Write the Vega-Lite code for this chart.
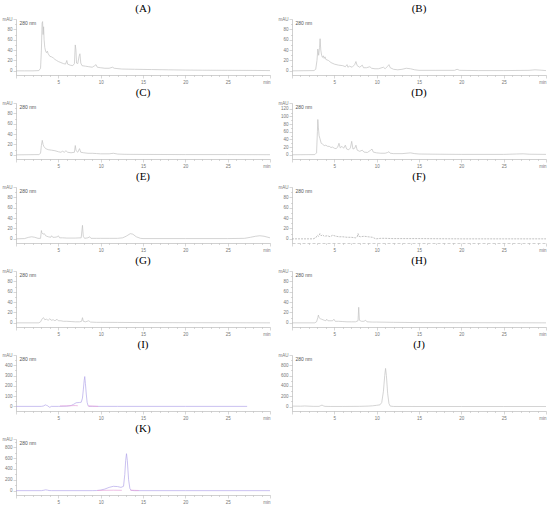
{
"$schema": "https://vega.github.io/schema/vega-lite/v6.json",
"padding": {"left": 2, "top": 3, "right": 2, "bottom": 0},
"background": "white",
"columns": 2,
"spacing": {"row": 3, "column": 6},
"datasets": {
"A": [{"t":0,"v":0},{"t":1,"v":0},{"t":2,"v":0},{"t":2.7,"v":0.5},{"t":2.9,"v":5},{"t":3.0,"v":40},{"t":3.08,"v":92},{"t":3.14,"v":95},{"t":3.2,"v":70},{"t":3.26,"v":85},{"t":3.32,"v":60},{"t":3.4,"v":45},{"t":3.5,"v":38},{"t":3.6,"v":35},{"t":3.7,"v":38},{"t":3.8,"v":33},{"t":4.0,"v":28},{"t":4.2,"v":27},{"t":4.4,"v":25},{"t":4.6,"v":22},{"t":4.8,"v":20},{"t":5.0,"v":18},{"t":5.3,"v":16},{"t":5.6,"v":14},{"t":5.85,"v":13},{"t":6.0,"v":20},{"t":6.1,"v":13},{"t":6.4,"v":11},{"t":6.7,"v":10},{"t":6.9,"v":14},{"t":7.0,"v":50},{"t":7.08,"v":40},{"t":7.15,"v":15},{"t":7.3,"v":14},{"t":7.45,"v":28},{"t":7.55,"v":33},{"t":7.65,"v":15},{"t":7.8,"v":10},{"t":8.2,"v":9},{"t":8.6,"v":8},{"t":9.0,"v":7},{"t":9.3,"v":10},{"t":9.45,"v":12},{"t":9.6,"v":7},{"t":10.0,"v":6},{"t":10.5,"v":5},{"t":11.0,"v":5},{"t":11.4,"v":7},{"t":11.6,"v":5},{"t":12.5,"v":3.5},{"t":14,"v":3},{"t":16,"v":2.5},{"t":18,"v":2},{"t":20,"v":1.5},{"t":22,"v":1.2},{"t":25,"v":1},{"t":28,"v":0.8},{"t":30,"v":0.5}],
"B": [{"t":0,"v":0},{"t":2.6,"v":0.5},{"t":2.8,"v":3},{"t":2.95,"v":20},{"t":3.05,"v":42},{"t":3.15,"v":30},{"t":3.25,"v":45},{"t":3.32,"v":62},{"t":3.4,"v":40},{"t":3.5,"v":30},{"t":3.6,"v":26},{"t":3.7,"v":29},{"t":3.8,"v":24},{"t":3.9,"v":27},{"t":4.0,"v":22},{"t":4.3,"v":20},{"t":4.6,"v":16},{"t":5.0,"v":13},{"t":5.5,"v":11},{"t":6.0,"v":10},{"t":6.3,"v":8},{"t":6.5,"v":12},{"t":6.6,"v":7},{"t":6.8,"v":9},{"t":7.1,"v":7},{"t":7.4,"v":12},{"t":7.55,"v":18},{"t":7.7,"v":10},{"t":8.0,"v":7},{"t":8.3,"v":11},{"t":8.45,"v":6},{"t":8.8,"v":6},{"t":9.2,"v":8},{"t":9.4,"v":5},{"t":9.8,"v":4},{"t":10.2,"v":4},{"t":10.8,"v":7},{"t":11.0,"v":4},{"t":11.3,"v":9},{"t":11.45,"v":12},{"t":11.6,"v":6},{"t":12.0,"v":3},{"t":12.5,"v":2},{"t":13.0,"v":3},{"t":13.5,"v":5},{"t":14.0,"v":4},{"t":14.5,"v":2},{"t":15,"v":1},{"t":17,"v":1},{"t":19.2,"v":1},{"t":19.5,"v":3},{"t":19.8,"v":1},{"t":22,"v":0.5},{"t":25,"v":0.5},{"t":28,"v":1},{"t":28.7,"v":2},{"t":29.2,"v":1.5},{"t":30,"v":0.5}],
"C": [{"t":0,"v":0},{"t":2.7,"v":0.5},{"t":2.9,"v":3},{"t":3.0,"v":18},{"t":3.1,"v":28},{"t":3.2,"v":20},{"t":3.3,"v":16},{"t":3.5,"v":12},{"t":3.8,"v":10},{"t":4.2,"v":9},{"t":4.6,"v":8},{"t":5.0,"v":6},{"t":5.3,"v":5},{"t":5.5,"v":7},{"t":5.7,"v":5},{"t":5.9,"v":8},{"t":6.1,"v":5},{"t":6.5,"v":4},{"t":6.9,"v":5},{"t":7.0,"v":18},{"t":7.1,"v":8},{"t":7.3,"v":5},{"t":7.5,"v":12},{"t":7.65,"v":5},{"t":8.0,"v":4},{"t":8.5,"v":3},{"t":9.0,"v":3},{"t":9.5,"v":2.5},{"t":10,"v":2},{"t":11,"v":2},{"t":11.5,"v":3},{"t":12,"v":1.5},{"t":13,"v":1},{"t":15,"v":0.8},{"t":20,"v":0.5},{"t":25,"v":0.5},{"t":30,"v":0.3}],
"D": [{"t":0,"v":0},{"t":2.7,"v":0.5},{"t":2.9,"v":5},{"t":3.0,"v":60},{"t":3.05,"v":92},{"t":3.12,"v":70},{"t":3.2,"v":50},{"t":3.3,"v":42},{"t":3.45,"v":30},{"t":3.6,"v":28},{"t":3.8,"v":24},{"t":4.0,"v":25},{"t":4.2,"v":22},{"t":4.4,"v":22},{"t":4.6,"v":19},{"t":4.8,"v":20},{"t":5.0,"v":17},{"t":5.2,"v":16},{"t":5.4,"v":20},{"t":5.55,"v":30},{"t":5.7,"v":18},{"t":5.9,"v":22},{"t":6.1,"v":17},{"t":6.3,"v":25},{"t":6.45,"v":15},{"t":6.7,"v":13},{"t":6.9,"v":18},{"t":7.05,"v":35},{"t":7.2,"v":15},{"t":7.4,"v":17},{"t":7.55,"v":25},{"t":7.7,"v":12},{"t":8.0,"v":9},{"t":8.3,"v":12},{"t":8.5,"v":7},{"t":8.9,"v":6},{"t":9.3,"v":12},{"t":9.45,"v":15},{"t":9.6,"v":7},{"t":10.0,"v":5},{"t":10.5,"v":4},{"t":11.0,"v":4},{"t":11.3,"v":6},{"t":11.45,"v":8},{"t":11.6,"v":4},{"t":12.0,"v":3},{"t":13.0,"v":3},{"t":14.0,"v":5},{"t":14.5,"v":3},{"t":15,"v":2},{"t":17,"v":1.5},{"t":20,"v":1},{"t":25,"v":1},{"t":26.5,"v":2},{"t":27.3,"v":2.5},{"t":28,"v":1.5},{"t":30,"v":1}],
"E": [{"t":0,"v":0},{"t":1.0,"v":0.5},{"t":1.5,"v":3},{"t":1.85,"v":4},{"t":2.2,"v":3},{"t":2.6,"v":1},{"t":2.9,"v":1},{"t":3.0,"v":16},{"t":3.05,"v":12},{"t":3.2,"v":9},{"t":3.35,"v":10},{"t":3.5,"v":6},{"t":3.8,"v":4},{"t":4.1,"v":3},{"t":4.2,"v":6},{"t":4.35,"v":3},{"t":4.6,"v":3},{"t":4.9,"v":4},{"t":5.0,"v":6},{"t":5.15,"v":2},{"t":5.5,"v":2},{"t":6.0,"v":1.5},{"t":7.0,"v":1.5},{"t":7.7,"v":2},{"t":7.85,"v":26},{"t":7.95,"v":5},{"t":8.1,"v":1},{"t":8.5,"v":2},{"t":8.7,"v":4},{"t":8.85,"v":1},{"t":9.5,"v":1},{"t":10,"v":1},{"t":11,"v":1},{"t":12,"v":1},{"t":12.6,"v":2},{"t":13.0,"v":5},{"t":13.5,"v":10},{"t":13.8,"v":9},{"t":14.2,"v":4},{"t":14.7,"v":1},{"t":15,"v":0.5},{"t":20,"v":0.5},{"t":25,"v":0.5},{"t":27,"v":1},{"t":27.7,"v":3},{"t":28.3,"v":5},{"t":28.8,"v":6},{"t":29.3,"v":5},{"t":30,"v":2}],
"F": [{"t":0,"v":0},{"t":2.5,"v":0},{"t":2.8,"v":2},{"t":3.0,"v":7},{"t":3.15,"v":5},{"t":3.3,"v":10},{"t":3.45,"v":6},{"t":3.6,"v":8},{"t":3.8,"v":5},{"t":4.2,"v":6},{"t":4.5,"v":4},{"t":4.8,"v":7},{"t":5.2,"v":5},{"t":5.6,"v":4},{"t":6.0,"v":4},{"t":6.5,"v":3},{"t":7.0,"v":3},{"t":7.5,"v":2},{"t":7.7,"v":4},{"t":7.8,"v":10},{"t":7.9,"v":5},{"t":8.1,"v":4},{"t":8.5,"v":5},{"t":9.0,"v":4},{"t":9.5,"v":3},{"t":9.9,"v":0},{"t":10.5,"v":1},{"t":11,"v":1},{"t":12,"v":0.5},{"t":15,"v":0.5},{"t":20,"v":0},{"t":25,"v":0},{"t":30,"v":0}],
"G": [{"t":0,"v":0},{"t":2.7,"v":0},{"t":2.9,"v":2},{"t":3.1,"v":8},{"t":3.25,"v":10},{"t":3.4,"v":6},{"t":3.6,"v":7},{"t":3.8,"v":5},{"t":4.0,"v":8},{"t":4.15,"v":5},{"t":4.4,"v":6},{"t":4.6,"v":4},{"t":4.85,"v":7},{"t":5.0,"v":4},{"t":5.3,"v":4},{"t":5.6,"v":3},{"t":6.0,"v":3},{"t":6.5,"v":2.5},{"t":7.0,"v":2},{"t":7.5,"v":2},{"t":7.75,"v":3},{"t":7.85,"v":10},{"t":7.95,"v":3},{"t":8.2,"v":2},{"t":8.6,"v":4},{"t":8.8,"v":1.5},{"t":9.5,"v":1},{"t":10,"v":1},{"t":12,"v":0.8},{"t":15,"v":0.5},{"t":20,"v":0.3},{"t":25,"v":0.2},{"t":30,"v":0}],
"H": [{"t":0,"v":0},{"t":2.7,"v":0},{"t":2.9,"v":2},{"t":3.05,"v":10},{"t":3.12,"v":15},{"t":3.2,"v":10},{"t":3.35,"v":8},{"t":3.5,"v":7},{"t":3.8,"v":5},{"t":4.0,"v":4},{"t":4.1,"v":7},{"t":4.25,"v":4},{"t":4.5,"v":4},{"t":4.8,"v":4},{"t":4.95,"v":7},{"t":5.1,"v":3},{"t":5.5,"v":3},{"t":6.0,"v":2.5},{"t":6.5,"v":2},{"t":7.0,"v":2},{"t":7.5,"v":2},{"t":7.8,"v":4},{"t":7.88,"v":30},{"t":7.96,"v":5},{"t":8.2,"v":3},{"t":8.5,"v":3},{"t":8.7,"v":5},{"t":8.85,"v":2},{"t":9.5,"v":1.5},{"t":10,"v":1.5},{"t":12,"v":1},{"t":15,"v":0.5},{"t":20,"v":0.3},{"t":25,"v":0.2},{"t":30,"v":0}],
"I": [{"s":"a","t":0,"v":0},{"s":"a","t":3.0,"v":0},{"s":"a","t":3.3,"v":5},{"s":"a","t":3.45,"v":15},{"s":"a","t":3.6,"v":10},{"s":"a","t":3.75,"v":5},{"s":"a","t":3.9,"v":-5},{"s":"a","t":4.0,"v":-10},{"s":"a","t":4.15,"v":0},{"s":"a","t":5.0,"v":0},{"s":"a","t":6.0,"v":2},{"s":"a","t":6.5,"v":8},{"s":"a","t":6.8,"v":20},{"s":"a","t":7.1,"v":35},{"s":"a","t":7.5,"v":38},{"s":"a","t":7.7,"v":40},{"s":"a","t":7.85,"v":80},{"s":"a","t":7.95,"v":160},{"s":"a","t":8.05,"v":250},{"s":"a","t":8.12,"v":290},{"s":"a","t":8.2,"v":220},{"s":"a","t":8.3,"v":120},{"s":"a","t":8.4,"v":40},{"s":"a","t":8.5,"v":10},{"s":"a","t":8.6,"v":0},{"s":"a","t":9.0,"v":0},{"s":"a","t":12,"v":0},{"s":"a","t":20,"v":0},{"s":"a","t":27.3,"v":0},
{"s":"b","t":5.2,"v":4},{"s":"b","t":6.0,"v":5},{"s":"b","t":6.6,"v":7},{"s":"b","t":7.0,"v":8},{"s":"b","t":7.3,"v":6},{"s":"c","t":8.5,"v":5},{"s":"c","t":9.0,"v":3},{"s":"c","t":9.7,"v":0}],
"J": [{"t":0,"v":10},{"t":1,"v":8},{"t":1.5,"v":12},{"t":2.5,"v":5},{"t":3.2,"v":5},{"t":3.4,"v":20},{"t":3.55,"v":30},{"t":3.7,"v":15},{"t":3.9,"v":5},{"t":4.5,"v":3},{"t":6,"v":3},{"t":8,"v":5},{"t":9,"v":10},{"t":9.5,"v":15},{"t":10.0,"v":25},{"t":10.4,"v":35},{"t":10.6,"v":80},{"t":10.8,"v":300},{"t":10.95,"v":600},{"t":11.05,"v":740},{"t":11.15,"v":600},{"t":11.3,"v":250},{"t":11.45,"v":60},{"t":11.6,"v":10},{"t":12,"v":3},{"t":15,"v":2},{"t":20,"v":2},{"t":25,"v":2},{"t":30,"v":2}],
"K": [{"s":"a","t":0,"v":0},{"s":"a","t":3.0,"v":0},{"s":"a","t":3.3,"v":8},{"s":"a","t":3.5,"v":15},{"s":"a","t":3.7,"v":10},{"s":"a","t":3.9,"v":2},{"s":"a","t":4.2,"v":0},{"s":"a","t":9.0,"v":0},{"s":"a","t":9.5,"v":2},{"s":"a","t":10.0,"v":10},{"s":"a","t":10.5,"v":30},{"s":"a","t":11.0,"v":60},{"s":"a","t":11.5,"v":80},{"s":"a","t":12.0,"v":75},{"s":"a","t":12.4,"v":60},{"s":"a","t":12.7,"v":80},{"s":"a","t":12.85,"v":300},{"s":"a","t":12.95,"v":550},{"s":"a","t":13.05,"v":680},{"s":"a","t":13.15,"v":550},{"s":"a","t":13.3,"v":200},{"s":"a","t":13.45,"v":40},{"s":"a","t":13.6,"v":5},{"s":"a","t":14,"v":0},{"s":"a","t":20,"v":0},{"s":"a","t":30,"v":0},
{"s":"b","t":9.6,"v":3},{"s":"b","t":10.5,"v":6},{"s":"b","t":11.5,"v":8},{"s":"b","t":12.5,"v":6},{"s":"c","t":13.5,"v":8},{"s":"c","t":14.5,"v":3}]
},
"concat": [
{"title": "(A)", "width": 254, "height": 56, "data": {"name": "A"}, "mark": {"type": "line", "color": "#c2c2c2", "strokeWidth": 0.7},
 "encoding": {"x": {"field": "t", "type": "quantitative", "scale": {"domain": [0, 30], "nice": false, "zero": false}, "axis": {"title": null, "values": [0,1,2,3,4,5,6,7,8,9,10,11,12,13,14,15,16,17,18,19,20,21,22,23,24,25,26,27,28,29,30], "labelExpr": "datum.value == 30 ? 'min' : (datum.value > 0 && datum.value % 5 == 0 ? datum.label : '')", "labelOverlap": false, "tickSize": {"condition": {"test": "datum.value % 5 == 0", "value": 3}, "value": 1.5}}},
  "y": {"field": "v", "type": "quantitative", "scale": {"domain": [-8, 100], "nice": false, "zero": false}, "axis": {"title": "280 nm", "values": [0,10,20,30,40,50,60,70,80,90,100], "labelExpr": "datum.value == 100 ? 'mAU' : (datum.value % 20 == 0 ? datum.label : '')", "labelOverlap": false, "tickSize": {"condition": {"test": "datum.value % 20 == 0", "value": 3}, "value": 1.5}}}}},
{"title": "(B)", "width": 254, "height": 56, "data": {"name": "B"}, "mark": {"type": "line", "color": "#c2c2c2", "strokeWidth": 0.7},
 "encoding": {"x": {"field": "t", "type": "quantitative", "scale": {"domain": [0, 30], "nice": false, "zero": false}, "axis": {"title": null, "values": [0,1,2,3,4,5,6,7,8,9,10,11,12,13,14,15,16,17,18,19,20,21,22,23,24,25,26,27,28,29,30], "labelExpr": "datum.value == 30 ? 'min' : (datum.value > 0 && datum.value % 5 == 0 ? datum.label : '')", "labelOverlap": false, "tickSize": {"condition": {"test": "datum.value % 5 == 0", "value": 3}, "value": 1.5}}},
  "y": {"field": "v", "type": "quantitative", "scale": {"domain": [-8, 100], "nice": false, "zero": false}, "axis": {"title": "280 nm", "values": [0,10,20,30,40,50,60,70,80,90,100], "labelExpr": "datum.value == 100 ? 'mAU' : (datum.value % 20 == 0 ? datum.label : '')", "labelOverlap": false, "tickSize": {"condition": {"test": "datum.value % 20 == 0", "value": 3}, "value": 1.5}}}}},
{"title": "(C)", "width": 254, "height": 56, "data": {"name": "C"}, "mark": {"type": "line", "color": "#c2c2c2", "strokeWidth": 0.7},
 "encoding": {"x": {"field": "t", "type": "quantitative", "scale": {"domain": [0, 30], "nice": false, "zero": false}, "axis": {"title": null, "values": [0,1,2,3,4,5,6,7,8,9,10,11,12,13,14,15,16,17,18,19,20,21,22,23,24,25,26,27,28,29,30], "labelExpr": "datum.value == 30 ? 'min' : (datum.value > 0 && datum.value % 5 == 0 ? datum.label : '')", "labelOverlap": false, "tickSize": {"condition": {"test": "datum.value % 5 == 0", "value": 3}, "value": 1.5}}},
  "y": {"field": "v", "type": "quantitative", "scale": {"domain": [-8, 100], "nice": false, "zero": false}, "axis": {"title": "280 nm", "values": [0,10,20,30,40,50,60,70,80,90,100], "labelExpr": "datum.value == 100 ? 'mAU' : (datum.value % 20 == 0 ? datum.label : '')", "labelOverlap": false, "tickSize": {"condition": {"test": "datum.value % 20 == 0", "value": 3}, "value": 1.5}}}}},
{"title": "(D)", "width": 254, "height": 56, "data": {"name": "D"}, "mark": {"type": "line", "color": "#c2c2c2", "strokeWidth": 0.7},
 "encoding": {"x": {"field": "t", "type": "quantitative", "scale": {"domain": [0, 30], "nice": false, "zero": false}, "axis": {"title": null, "values": [0,1,2,3,4,5,6,7,8,9,10,11,12,13,14,15,16,17,18,19,20,21,22,23,24,25,26,27,28,29,30], "labelExpr": "datum.value == 30 ? 'min' : (datum.value > 0 && datum.value % 5 == 0 ? datum.label : '')", "labelOverlap": false, "tickSize": {"condition": {"test": "datum.value % 5 == 0", "value": 3}, "value": 1.5}}},
  "y": {"field": "v", "type": "quantitative", "scale": {"domain": [-11, 135], "nice": false, "zero": false}, "axis": {"title": "280 nm", "values": [0,10,20,30,40,50,60,70,80,90,100,110,120,135], "labelExpr": "datum.value == 135 ? 'mAU' : (datum.value % 20 == 0 ? datum.label : '')", "labelOverlap": false, "tickSize": {"condition": {"test": "datum.value % 20 == 0 || datum.value == 135", "value": 3}, "value": 1.5}}}}},
{"title": "(E)", "width": 254, "height": 56, "data": {"name": "E"}, "mark": {"type": "line", "color": "#c2c2c2", "strokeWidth": 0.7},
 "encoding": {"x": {"field": "t", "type": "quantitative", "scale": {"domain": [0, 30], "nice": false, "zero": false}, "axis": {"title": null, "values": [0,1,2,3,4,5,6,7,8,9,10,11,12,13,14,15,16,17,18,19,20,21,22,23,24,25,26,27,28,29,30], "labelExpr": "datum.value == 30 ? 'min' : (datum.value > 0 && datum.value % 5 == 0 ? datum.label : '')", "labelOverlap": false, "tickSize": {"condition": {"test": "datum.value % 5 == 0", "value": 3}, "value": 1.5}}},
  "y": {"field": "v", "type": "quantitative", "scale": {"domain": [-8, 100], "nice": false, "zero": false}, "axis": {"title": "280 nm", "values": [0,10,20,30,40,50,60,70,80,90,100], "labelExpr": "datum.value == 100 ? 'mAU' : (datum.value % 20 == 0 ? datum.label : '')", "labelOverlap": false, "tickSize": {"condition": {"test": "datum.value % 20 == 0", "value": 3}, "value": 1.5}}}}},
{"title": "(F)", "width": 254, "height": 56, "data": {"name": "F"}, "mark": {"type": "line", "color": "#a8a8a8", "strokeWidth": 0.7, "strokeDash": [2, 1]},
 "encoding": {"x": {"field": "t", "type": "quantitative", "scale": {"domain": [0, 30], "nice": false, "zero": false}, "axis": {"title": null, "values": [0,1,2,3,4,5,6,7,8,9,10,11,12,13,14,15,16,17,18,19,20,21,22,23,24,25,26,27,28,29,30], "labelExpr": "datum.value == 30 ? 'min' : (datum.value > 0 && datum.value % 5 == 0 ? datum.label : '')", "labelOverlap": false, "domainDash": [3, 2], "tickSize": {"condition": {"test": "datum.value % 5 == 0", "value": 3}, "value": 1.5}}},
  "y": {"field": "v", "type": "quantitative", "scale": {"domain": [-8, 100], "nice": false, "zero": false}, "axis": {"title": "280 nm", "values": [0,10,20,30,40,50,60,70,80,90,100], "labelExpr": "datum.value == 100 ? 'mAU' : (datum.value % 20 == 0 ? datum.label : '')", "labelOverlap": false, "tickSize": {"condition": {"test": "datum.value % 20 == 0", "value": 3}, "value": 1.5}}}}},
{"title": "(G)", "width": 254, "height": 56, "data": {"name": "G"}, "mark": {"type": "line", "color": "#c2c2c2", "strokeWidth": 0.7},
 "encoding": {"x": {"field": "t", "type": "quantitative", "scale": {"domain": [0, 30], "nice": false, "zero": false}, "axis": {"title": null, "values": [0,1,2,3,4,5,6,7,8,9,10,11,12,13,14,15,16,17,18,19,20,21,22,23,24,25,26,27,28,29,30], "labelExpr": "datum.value == 30 ? 'min' : (datum.value > 0 && datum.value % 5 == 0 ? datum.label : '')", "labelOverlap": false, "tickSize": {"condition": {"test": "datum.value % 5 == 0", "value": 3}, "value": 1.5}}},
  "y": {"field": "v", "type": "quantitative", "scale": {"domain": [-8, 100], "nice": false, "zero": false}, "axis": {"title": "280 nm", "values": [0,10,20,30,40,50,60,70,80,90,100], "labelExpr": "datum.value == 100 ? 'mAU' : (datum.value % 20 == 0 ? datum.label : '')", "labelOverlap": false, "tickSize": {"condition": {"test": "datum.value % 20 == 0", "value": 3}, "value": 1.5}}}}},
{"title": "(H)", "width": 254, "height": 56, "data": {"name": "H"}, "mark": {"type": "line", "color": "#c2c2c2", "strokeWidth": 0.7},
 "encoding": {"x": {"field": "t", "type": "quantitative", "scale": {"domain": [0, 30], "nice": false, "zero": false}, "axis": {"title": null, "values": [0,1,2,3,4,5,6,7,8,9,10,11,12,13,14,15,16,17,18,19,20,21,22,23,24,25,26,27,28,29,30], "labelExpr": "datum.value == 30 ? 'min' : (datum.value > 0 && datum.value % 5 == 0 ? datum.label : '')", "labelOverlap": false, "tickSize": {"condition": {"test": "datum.value % 5 == 0", "value": 3}, "value": 1.5}}},
  "y": {"field": "v", "type": "quantitative", "scale": {"domain": [-8, 100], "nice": false, "zero": false}, "axis": {"title": "280 nm", "values": [0,10,20,30,40,50,60,70,80,90,100], "labelExpr": "datum.value == 100 ? 'mAU' : (datum.value % 20 == 0 ? datum.label : '')", "labelOverlap": false, "tickSize": {"condition": {"test": "datum.value % 20 == 0", "value": 3}, "value": 1.5}}}}},
{"title": "(I)", "width": 254, "height": 56, "data": {"name": "I"}, "mark": {"type": "line", "strokeWidth": 0.7},
 "encoding": {"x": {"field": "t", "type": "quantitative", "scale": {"domain": [0, 30], "nice": false, "zero": false}, "axis": {"title": null, "values": [0,1,2,3,4,5,6,7,8,9,10,11,12,13,14,15,16,17,18,19,20,21,22,23,24,25,26,27,28,29,30], "labelExpr": "datum.value == 30 ? 'min' : (datum.value > 0 && datum.value % 5 == 0 ? datum.label : '')", "labelOverlap": false, "tickSize": {"condition": {"test": "datum.value % 5 == 0", "value": 3}, "value": 1.5}}},
  "y": {"field": "v", "type": "quantitative", "scale": {"domain": [-45, 500], "nice": false, "zero": false}, "axis": {"title": "280 nm", "values": [0,50,100,150,200,250,300,350,400,450,500], "labelExpr": "datum.value == 500 ? 'mAU' : (datum.value % 100 == 0 ? datum.label : '')", "labelOverlap": false, "tickSize": {"condition": {"test": "datum.value % 100 == 0", "value": 3}, "value": 1.5}}},
  "color": {"field": "s", "type": "nominal", "scale": {"domain": ["a", "b", "c"], "range": ["#b3a6ea", "#e6a2da", "#e6a2da"]}, "legend": null}}},
{"title": "(J)", "width": 254, "height": 56, "data": {"name": "J"}, "mark": {"type": "line", "color": "#c2c2c2", "strokeWidth": 0.7},
 "encoding": {"x": {"field": "t", "type": "quantitative", "scale": {"domain": [0, 30], "nice": false, "zero": false}, "axis": {"title": null, "values": [0,1,2,3,4,5,6,7,8,9,10,11,12,13,14,15,16,17,18,19,20,21,22,23,24,25,26,27,28,29,30], "labelExpr": "datum.value == 30 ? 'min' : (datum.value > 0 && datum.value % 5 == 0 ? datum.label : '')", "labelOverlap": false, "tickSize": {"condition": {"test": "datum.value % 5 == 0", "value": 3}, "value": 1.5}}},
  "y": {"field": "v", "type": "quantitative", "scale": {"domain": [-85, 1000], "nice": false, "zero": false}, "axis": {"title": "280 nm", "values": [0,100,200,300,400,500,600,700,800,900,1000], "labelExpr": "datum.value == 1000 ? 'mAU' : (datum.value % 200 == 0 ? datum.label : '')", "labelOverlap": false, "tickSize": {"condition": {"test": "datum.value % 200 == 0", "value": 3}, "value": 1.5}}}}},
{"title": "(K)", "width": 254, "height": 56, "data": {"name": "K"}, "mark": {"type": "line", "strokeWidth": 0.7},
 "encoding": {"x": {"field": "t", "type": "quantitative", "scale": {"domain": [0, 30], "nice": false, "zero": false}, "axis": {"title": null, "values": [0,1,2,3,4,5,6,7,8,9,10,11,12,13,14,15,16,17,18,19,20,21,22,23,24,25,26,27,28,29,30], "labelExpr": "datum.value == 30 ? 'min' : (datum.value > 0 && datum.value % 5 == 0 ? datum.label : '')", "labelOverlap": false, "tickSize": {"condition": {"test": "datum.value % 5 == 0", "value": 3}, "value": 1.5}}},
  "y": {"field": "v", "type": "quantitative", "scale": {"domain": [-80, 950], "nice": false, "zero": false}, "axis": {"title": "280 nm", "values": [0,100,200,300,400,500,600,700,800,900,950], "labelExpr": "datum.value == 950 ? 'mAU' : (datum.value % 200 == 0 ? datum.label : '')", "labelOverlap": false, "tickSize": {"condition": {"test": "datum.value % 200 == 0 || datum.value == 950", "value": 3}, "value": 1.5}}},
  "color": {"field": "s", "type": "nominal", "scale": {"domain": ["a", "b", "c"], "range": ["#b3a6ea", "#e6a2da", "#e6a2da"]}, "legend": null}}}
],
"config": {
 "view": {"stroke": null},
 "axis": {"grid": false, "domainColor": "#b0b0b0", "domainWidth": 0.6, "tickColor": "#b0b0b0", "tickWidth": 0.5, "labelColor": "#777777", "labelFont": "Liberation Sans", "labelFontSize": 4.5, "labelPadding": 1},
 "axisY": {"titleAngle": 0, "titleAlign": "left", "titleBaseline": "top", "titleX": 3, "titleY": 1, "titleFont": "Liberation Sans", "titleFontSize": 5, "titleFontWeight": "normal", "titleColor": "#555555"},
 "title": {"font": "Liberation Serif", "fontSize": 11, "fontWeight": "normal", "color": "#000000", "offset": 2}
}
}
